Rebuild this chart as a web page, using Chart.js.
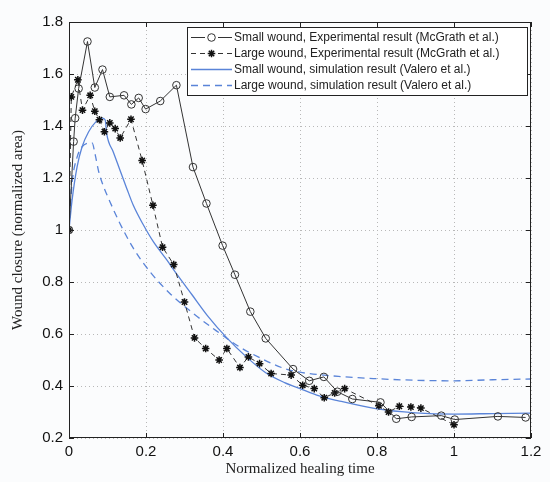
<!DOCTYPE html>
<html>
<head>
<meta charset="utf-8">
<script src="https://cdn.jsdelivr.net/npm/chart.js@4.4.1/dist/chart.umd.min.js"></script>
<style>
  html, body { margin: 0; padding: 0; background: #fbfcfd; }
  #contenedor { width: 550px; height: 482px; }
</style>
</head>
<body>
<div id="contenedor"><canvas id="graficoHeridas" width="550" height="482"></canvas></div>
<script>
// Experimental curves (McGrath et al.)
const smallExpX = [0, 0.012, 0.016, 0.025, 0.048, 0.067, 0.087, 0.106, 0.143, 0.162, 0.181, 0.199, 0.237, 0.279, 0.322, 0.357, 0.399, 0.431, 0.471, 0.511, 0.582, 0.624, 0.662, 0.697, 0.736, 0.809, 0.850, 0.890, 0.967, 1.002, 1.114, 1.186];
const smallExpY = [1.0, 1.34, 1.43, 1.544, 1.725, 1.548, 1.617, 1.512, 1.518, 1.483, 1.508, 1.465, 1.496, 1.557, 1.242, 1.102, 0.940, 0.828, 0.686, 0.583, 0.465, 0.420, 0.435, 0.378, 0.350, 0.337, 0.274, 0.281, 0.286, 0.271, 0.283, 0.279];

const largeExpX = [0, 0.006, 0.023, 0.035, 0.055, 0.067, 0.079, 0.092, 0.106, 0.120, 0.133, 0.161, 0.190, 0.218, 0.243, 0.272, 0.300, 0.326, 0.355, 0.390, 0.410, 0.444, 0.466, 0.495, 0.525, 0.577, 0.607, 0.637, 0.663, 0.690, 0.716, 0.805, 0.830, 0.858, 0.888, 0.914, 1.0];
const largeExpY = [1.0, 1.512, 1.578, 1.461, 1.518, 1.457, 1.424, 1.378, 1.412, 1.390, 1.354, 1.426, 1.267, 1.095, 0.934, 0.867, 0.723, 0.585, 0.544, 0.500, 0.544, 0.471, 0.512, 0.486, 0.448, 0.442, 0.403, 0.390, 0.355, 0.373, 0.390, 0.324, 0.300, 0.322, 0.319, 0.315, 0.251];

// Simulation curves (Valero et al.)
const smallSimX = [0, 0.008, 0.021, 0.034, 0.051, 0.068, 0.086, 0.094, 0.098, 0.115, 0.132, 0.150, 0.167, 0.193, 0.219, 0.254, 0.280, 0.320, 0.360, 0.410, 0.460, 0.510, 0.560, 0.600, 0.650, 0.700, 0.800, 0.900, 1.0, 1.1, 1.2];
const smallSimY = [1.0, 1.115, 1.243, 1.320, 1.378, 1.413, 1.430, 1.423, 1.370, 1.300, 1.232, 1.160, 1.095, 1.020, 0.955, 0.885, 0.830, 0.750, 0.670, 0.585, 0.513, 0.452, 0.413, 0.390, 0.362, 0.343, 0.312, 0.297, 0.292, 0.294, 0.296];

const largeSimX = [0, 0.008, 0.021, 0.034, 0.047, 0.060, 0.068, 0.077, 0.089, 0.106, 0.132, 0.167, 0.210, 0.262, 0.322, 0.382, 0.442, 0.494, 0.560, 0.600, 0.700, 0.800, 0.900, 1.0, 1.1, 1.2];
const largeSimY = [1.0, 1.180, 1.280, 1.320, 1.333, 1.335, 1.290, 1.225, 1.170, 1.110, 1.026, 0.930, 0.840, 0.756, 0.680, 0.613, 0.551, 0.510, 0.467, 0.453, 0.437, 0.428, 0.422, 0.420, 0.424, 0.427];

const xTicks = [0, 0.2, 0.4, 0.6, 0.8, 1.0, 1.2];
const yTicks = [0.2, 0.4, 0.6, 0.8, 1.0, 1.2, 1.4, 1.6, 1.8];

const azul = '#5a84d8';
const negro = '#333333';

function puntos(xs, ys) {
    return xs.map((x, i) => ({ x: x, y: ys[i] }));
}

function etiqueta(v) {
    return String(+v.toFixed(1));
}

// box + inward ticks on all four sides
const marcoPlugin = {
    id: 'marco',
    afterDatasetsDraw(chart) {
        const { ctx, chartArea: a, scales: { x, y } } = chart;
        ctx.save();
        ctx.strokeStyle = '#222';
        ctx.lineWidth = 1;
        ctx.strokeRect(a.left + 0.5, a.top + 0.5, a.right - a.left - 1, a.bottom - a.top - 1);
        ctx.beginPath();
        xTicks.forEach(v => {
            const px = Math.round(x.getPixelForValue(v)) + 0.5;
            ctx.moveTo(px, a.bottom); ctx.lineTo(px, a.bottom - 5);
            ctx.moveTo(px, a.top); ctx.lineTo(px, a.top + 5);
        });
        yTicks.forEach(v => {
            const py = Math.round(y.getPixelForValue(v)) + 0.5;
            ctx.moveTo(a.left, py); ctx.lineTo(a.left + 5, py);
            ctx.moveTo(a.right, py); ctx.lineTo(a.right - 5, py);
        });
        ctx.stroke();
        ctx.restore();
    }
};

// legend drawn by hand so the line samples carry their markers
const leyendaPlugin = {
    id: 'leyenda',
    afterDraw(chart) {
        const ctx = chart.ctx;
        const caja = { left: 187, top: 27, right: 527, bottom: 95 };
        ctx.save();
        ctx.fillStyle = '#ffffff';
        ctx.fillRect(caja.left, caja.top, caja.right - caja.left, caja.bottom - caja.top);
        ctx.strokeStyle = '#222';
        ctx.lineWidth = 1;
        ctx.strokeRect(caja.left + 0.5, caja.top + 0.5, caja.right - caja.left, caja.bottom - caja.top);
        chart.data.datasets.forEach((ds, i) => {
            const fy = 37.5 + i * 16;
            ctx.strokeStyle = ds.borderColor;
            ctx.lineWidth = ds.borderWidth;
            ctx.setLineDash(ds.borderDash || []);
            ctx.beginPath();
            ctx.moveTo(191, fy);
            ctx.lineTo(232, fy);
            ctx.stroke();
            ctx.setLineDash([]);
            if (ds.pointRadius > 0) {
                ctx.fillStyle = '#ffffff';
                ctx.fillRect(205, fy - 5, 13, 10);
                ctx.strokeStyle = ds.pointBorderColor;
                ctx.lineWidth = ds.pointBorderWidth;
                ctx.beginPath();
                if (ds.pointStyle === 'circle') {
                    ctx.arc(211.5, fy, ds.pointRadius, 0, Math.PI * 2);
                } else {
                    const r = ds.pointRadius;
                    ctx.moveTo(211.5 - r, fy); ctx.lineTo(211.5 + r, fy);
                    ctx.moveTo(211.5, fy - r); ctx.lineTo(211.5, fy + r);
                    const d = r * Math.SQRT1_2;
                    ctx.moveTo(211.5 - d, fy - d); ctx.lineTo(211.5 + d, fy + d);
                    ctx.moveTo(211.5 - d, fy + d); ctx.lineTo(211.5 + d, fy - d);
                }
                ctx.stroke();
            }
            ctx.fillStyle = '#222';
            ctx.font = '12px "Liberation Sans", Arial, sans-serif';
            ctx.textBaseline = 'middle';
            ctx.textAlign = 'left';
            ctx.fillText(ds.label, 234, fy);
        });
        ctx.restore();
    }
};

const ctxHeridas = document.getElementById('graficoHeridas').getContext('2d');
new Chart(ctxHeridas, {
    type: 'scatter',
    data: {
        datasets: [
            {
                label: 'Small wound, Experimental result (McGrath et al.)',
                data: puntos(smallExpX, smallExpY),
                showLine: true,
                borderColor: negro,
                borderWidth: 1,
                pointStyle: 'circle',
                pointRadius: 3.8,
                pointBorderWidth: 1,
                pointBorderColor: negro,
                pointBackgroundColor: 'rgba(0,0,0,0)',
                order: 1
            },
            {
                label: 'Large wound, Experimental result (McGrath et al.)',
                data: puntos(largeExpX, largeExpY),
                showLine: true,
                borderColor: negro,
                borderWidth: 1,
                borderDash: [5, 4],
                pointStyle: 'star',
                pointRadius: 3.8,
                pointBorderWidth: 1.5,
                pointBorderColor: '#111',
                pointBackgroundColor: '#111',
                order: 2
            },
            {
                label: 'Small wound, simulation result (Valero et al.)',
                data: puntos(smallSimX, smallSimY),
                showLine: true,
                borderColor: azul,
                borderWidth: 1.3,
                pointRadius: 0,
                cubicInterpolationMode: 'monotone',
                order: 3
            },
            {
                label: 'Large wound, simulation result (Valero et al.)',
                data: puntos(largeSimX, largeSimY),
                showLine: true,
                borderColor: azul,
                borderWidth: 1.3,
                borderDash: [7, 5],
                pointRadius: 0,
                cubicInterpolationMode: 'monotone',
                order: 4
            }
        ]
    },
    options: {
        responsive: false,
        animation: false,
        devicePixelRatio: 1,
        layout: { padding: { left: 0, right: 19, top: 22, bottom: 0 } },
        plugins: {
            legend: { display: false },
            tooltip: { enabled: false }
        },
        scales: {
            x: {
                type: 'linear',
                min: 0,
                max: 1.2,
                afterBuildTicks: scale => { scale.ticks = xTicks.map(v => ({ value: v })); },
                afterFit: scale => { scale.height = 44; },
                ticks: {
                    callback: etiqueta,
                    color: '#111',
                    padding: 5,
                    maxRotation: 0,
                    font: { family: '"Liberation Sans", Arial, sans-serif', size: 15 }
                },
                grid: { color: '#b8b8b8', lineWidth: 1, drawTicks: false },
                border: { display: false, dash: [1, 3] },
                title: {
                    display: true,
                    text: 'Normalized healing time',
                    color: '#222',
                    padding: { top: 0, bottom: 4 },
                    font: { family: '"Liberation Serif", "DejaVu Serif", serif', size: 15 }
                }
            },
            y: {
                type: 'linear',
                min: 0.2,
                max: 1.8,
                afterBuildTicks: scale => { scale.ticks = yTicks.map(v => ({ value: v })); },
                afterFit: scale => { scale.width = 69; },
                ticks: {
                    callback: etiqueta,
                    color: '#111',
                    padding: 6,
                    font: { family: '"Liberation Sans", Arial, sans-serif', size: 15 }
                },
                grid: { color: '#b8b8b8', lineWidth: 1, drawTicks: false },
                border: { display: false, dash: [1, 3] },
                title: {
                    display: true,
                    text: 'Wound closure (normalized area)',
                    color: '#222',
                    padding: { top: 9, bottom: 0 },
                    font: { family: '"Liberation Serif", "DejaVu Serif", serif', size: 15 }
                }
            }
        }
    },
    plugins: [marcoPlugin, leyendaPlugin]
});
</script>
</body>
</html>
